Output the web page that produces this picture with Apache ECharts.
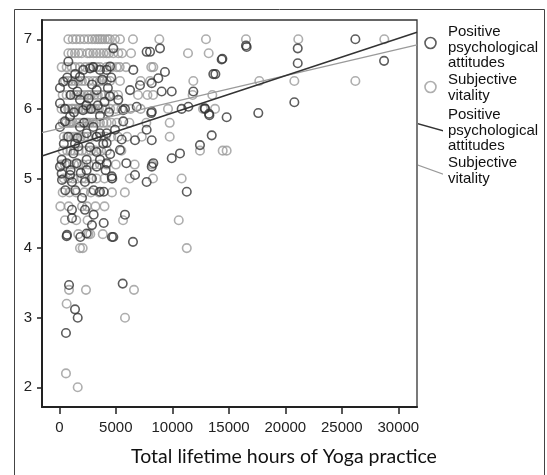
<!DOCTYPE html>
<html><head><meta charset="utf-8">
<script src="https://cdn.jsdelivr.net/npm/echarts@6/dist/echarts.min.js"></script>
<style>html,body{margin:0;padding:0;background:#fff}#c{width:547px;height:475px}</style>
</head><body><div id="c"></div>
<script>
const xTicks = [0, 5000, 10000, 15000, 20000, 25000, 30000];
const yTicks = [2, 3, 4, 5, 6, 7];
const axisTitle = 'Total lifetime hours of Yoga practice';

// Positive psychological attitudes (dark circles): [hours, score]
const ppaPoints = [
 [4780,6.87],[6550,6.56],[7730,6.82],[8030,6.82],[8910,6.87],[9350,6.53],[8760,6.44],[8180,6.37],[7140,6.34],[6260,6.27],
 [9060,6.25],[9950,6.25],[11860,6.25],[13630,6.5],[14370,6.71],[16580,6.89],[17610,5.94],[14810,5.88],[13280,5.91],[12890,6.0],
 [11420,6.03],[10830,6.0],[8180,5.96],[6850,6.03],[5810,6.0],[5660,5.82],[7730,5.7],[6700,5.55],[8180,5.55],[5520,5.56],
 [4190,5.51],[12450,5.48],[13490,5.62],[10680,5.36],[9950,5.29],[8320,5.22],[8180,5.17],[5370,5.41],[4190,5.22],[6700,5.05],
 [7730,4.95],[4640,5.03],[11280,4.81],[5810,4.48],[3930,4.36],[3040,4.48],
 [16520,6.91],[21100,6.87],[21100,6.655],[28740,6.69],[26200,7.0],[14430,6.72],[13810,6.5],[20800,6.095],[12870,6.01],[13250,5.93],
 [5640,5.98],[8140,5.94],[5930,5.22],[6520,4.09],[4780,4.16],[650,4.17],
 [860,3.47],[5610,3.49],[1390,3.12],[1630,3.0],[590,2.78],
 [800,6.68],[2120,6.56],[1830,6.46],[2720,6.58],[3600,6.56],[4190,6.56],[4490,6.61],[60,6.3],[350,6.39],[3310,6.27],
 [4490,6.18],[5220,6.13],[60,6.08],[1830,6.13],[950,5.89],[500,5.82],[60,5.74],[1830,5.74],[2420,5.65],[3310,5.6],
 [3600,5.65],[4190,5.65],[3010,5.74],[4930,5.7],[1390,5.5],[1680,5.46],[3890,5.5],[1240,5.36],[210,5.27],[650,5.22],
 [1540,5.22],[2420,5.27],[3600,5.27],[60,5.17],[210,5.07],[950,5.05],[2420,5.12],[3310,5.17],
 [240,4.98],[1120,4.95],[2890,5.0],[4660,5.0],[2270,4.95],[530,4.83],[1415,4.83],[3040,4.83],[3930,4.81],[3600,4.81],
 [2010,4.72],[1120,4.55],[2270,4.55],[1120,4.43],[2890,4.33],[4660,4.16],[680,4.19],[1860,4.16],[2420,4.21],
 [700,6.45],[1400,6.5],[2900,6.35],[3800,6.42],[4300,6.3],[1000,6.2],[1600,6.25],[2600,6.15],[3400,6.05],[4000,6.1],
 [500,6.0],[1300,5.95],[2100,5.98],[2800,6.0],[3600,5.9],[4400,5.95],[800,5.6],[1600,5.58],[2700,5.45],[3300,5.38],
 [4500,5.35],[1000,5.12],[1900,5.08],[4100,5.12],[400,5.5],[2200,5.8],[1200,6.35],[4600,6.45],[3000,6.6],[2400,6.05]
];

// Subjective vitality (light circles): [hours, score]
const svPoints = [
 [800,7],[1190,7],[1500,7],[1830,7],[2200,7],[2570,7],[2900,7],[3160,7],[3400,7],[3600,7],[3800,7],[4040,7],[4300,7],[4480,7],[4920,7],[5370,7],[6520,7],[8850,7],[12980,7],[16520,7],[21150,7],[28760,7],
 [800,6.8],[1100,6.8],[1390,6.8],[1700,6.8],[1980,6.8],[2480,6.8],[2700,6.8],[3010,6.8],[3300,6.8],[3600,6.8],[3900,6.8],[4190,6.8],[4400,6.8],[4780,6.8],[5220,6.8],[5550,6.8],[6350,6.8],[11390,6.8],[13220,6.8],
 [210,6.6],[650,6.6],[1100,6.6],[1400,6.6],[1830,6.6],[2300,6.6],[2720,6.6],[3000,6.6],[3300,6.6],[3600,6.6],[4190,6.6],[4640,6.6],[5080,6.6],[5345,6.6],[5900,6.6],[8140,6.6],[8320,6.6],
 [500,6.4],[800,6.4],[1100,6.4],[1400,6.4],[1680,6.4],[2000,6.4],[2270,6.4],[2600,6.4],[3000,6.4],[3310,6.4],[3600,6.4],[3890,6.4],[4200,6.4],[4490,6.4],[5370,6.4],[7200,6.4],[8030,6.4],[11860,6.4],[17700,6.4],[20800,6.4],[26200,6.4],
 [300,6.2],[650,6.2],[1000,6.2],[1300,6.2],[1500,6.2],[1600,6.2],[1900,6.2],[2200,6.2],[2500,6.2],[2600,6.2],[2800,6.2],[3100,6.2],[3400,6.2],[3700,6.2],[4000,6.2],[4400,6.2],[4800,6.2],[5200,6.2],[6965,6.2],[7800,6.2],[8300,6.2],[11800,6.2],[13540,6.2],
 [200,6.0],[500,6.0],[800,6.0],[1100,6.0],[1200,6.0],[1400,6.0],[1700,6.0],[2000,6.0],[2100,6.0],[2300,6.0],[2600,6.0],[2900,6.0],[3000,6.0],[3200,6.0],[3500,6.0],[3800,6.0],[4100,6.0],[4500,6.0],[5000,6.0],[5500,6.0],[6300,6.0],[7200,6.0],[9620,6.0],[12720,6.0],[13780,6.0],
 [300,5.8],[600,5.8],[900,5.8],[1000,5.8],[1200,5.8],[1500,5.8],[1800,5.8],[2100,5.8],[2400,5.8],[2500,5.8],[2700,5.8],[3000,5.8],[3300,5.8],[3600,5.8],[3900,5.8],[4200,5.8],[4600,5.8],[5100,5.8],[6200,5.8],[7700,5.8],[9770,5.8],
 [400,5.6],[700,5.6],[1000,5.6],[1300,5.6],[1600,5.6],[1900,5.6],[2200,5.6],[2500,5.6],[2900,5.6],[3300,5.6],[3700,5.6],[4100,5.6],[4600,5.6],[5200,5.6],[6000,5.6],[7300,5.6],[9770,5.6],
 [300,5.4],[700,5.4],[1000,5.4],[1300,5.4],[1700,5.4],[2000,5.4],[2400,5.4],[2800,5.4],[3200,5.4],[3700,5.4],[4200,5.4],[5490,5.4],[12450,5.4],[14460,5.4],[14810,5.4],
 [200,5.2],[500,5.2],[900,5.2],[1300,5.2],[1700,5.2],[2100,5.2],[2600,5.2],[3100,5.2],[3600,5.2],[4200,5.2],[5000,5.2],[6670,5.2],[8200,5.2],
 [400,5.0],[800,5.0],[1200,5.0],[1600,5.0],[2000,5.0],[2300,5.0],[2800,5.0],[3300,5.0],[4000,5.0],[4700,5.0],[6230,5.0],[8290,5.0],[10830,5.0],
 [300,4.8],[900,4.8],[1500,4.8],[2200,4.8],[2800,4.8],[3500,4.8],[4660,4.8],[5800,4.8],
 [90,4.6],[830,4.6],[2010,4.6],[2450,4.6],[3200,4.6],[4000,4.6],
 [500,4.4],[1500,4.4],[2500,4.4],[5640,4.4],[10570,4.4],
 [1680,4.2],[2570,4.2],[2740,4.2],[3850,4.2],
 [1830,4.0],[2070,4.0],[11280,4.0],
 [860,3.4],[2360,3.4],[6610,3.4],[650,3.2],[5815,3.0],[590,2.2],[1630,2.0]
];

// Fitted regression lines, evaluated at the axis extent
const fitHours = [-1531, 31655];
const ppaFit = [5.323, 7.10];
const svFit = [5.658, 6.918];

const legendLabels = {
  ppa: 'Positive\npsychological\nattitudes',
  sv: 'Subjective\nvitality',
  ppaFit: 'Positive\npsychological\nattitudes',
  svFit: 'Subjective\nvitality'
};
// small spacer line above each label (sets the label's offset from its key)
const legendSpacer = {ppa: 's9', sv: 's2', ppaFit: 's4', svFit: 's2'};

const DARK = '#333333', LIGHT = '#9a9a9a';
const chart = echarts.init(document.getElementById('c'), null, {renderer: 'canvas'});
const tickFont = {fontFamily: 'Liberation Sans', fontSize: 15, color: '#222'};
const anchor = 'M0,0 L0.01,0 L0,0.01 Z M25,11 L24.99,11 L25,10.99 Z ';
const spacer = h => ({fontSize: 1, lineHeight: h, height: h});

chart.setOption({
  animation: false,
  backgroundColor: '#fff',
  graphic: [{
    type: 'rect', silent: true,
    shape: {x: 14.5, y: 9.5, width: 530, height: 480},
    style: {fill: 'none', stroke: '#444', lineWidth: 1}
  }],
  title: {
    text: axisTitle, left: 284, top: 447, textAlign: 'center', padding: 0,
    textStyle: {fontFamily: 'Lato', fontSize: 19.5, fontWeight: 'normal', color: '#111'}
  },
  grid: {left: 42, right: 130, top: 20, bottom: 68, show: true, borderColor: '#333', borderWidth: 1.3, containLabel: false},
  legend: {
    orient: 'vertical', left: 418, top: 15.25, padding: 0, itemWidth: 25, itemHeight: 11, itemGap: -0.25,
    selectedMode: false,
    textStyle: {fontFamily: 'Liberation Sans', fontSize: 15, lineHeight: 15.5, color: '#111',
      rich: {s9: spacer(9), s4: spacer(4), s2: spacer(2)}},
    formatter: n => (legendSpacer[n] ? '{' + legendSpacer[n] + '| }\n' : '') + legendLabels[n],
    data: [
      {name: 'ppa', icon: 'circle', itemStyle: {color: 'rgba(0,0,0,0)', borderColor: DARK, borderWidth: 1.6}},
      {name: 'sv', icon: 'circle', itemStyle: {color: 'rgba(0,0,0,0)', borderColor: LIGHT, borderWidth: 1.6}},
      {name: 'ppaFit', icon: 'path://' + anchor + 'M0,0 L25,7 L25,8.4 L0,1.4 Z', itemStyle: {color: DARK, borderWidth: 0}},
      {name: 'svFit', icon: 'path://' + anchor + 'M0,0 L25,9 L25,10.2 L0,1.2 Z', itemStyle: {color: LIGHT, borderWidth: 0}}
    ]
  },
  xAxis: {
    type: 'value', min: -1531, max: 31655,
    axisLine: {show: true, onZero: false, lineStyle: {color: '#222', width: 2}},
    axisTick: {show: true, length: 7, customValues: xTicks, lineStyle: {color: '#222', width: 1.5}},
    axisLabel: {customValues: xTicks, margin: 13, formatter: v => String(v), ...tickFont},
    splitLine: {show: false}
  },
  yAxis: {
    type: 'value', min: 1.717, max: 7.277,
    axisLine: {show: true, onZero: false, lineStyle: {color: '#222', width: 2}},
    axisTick: {show: true, length: 5, customValues: yTicks, lineStyle: {color: '#222', width: 1.5}},
    axisLabel: {customValues: yTicks, margin: 10, formatter: v => String(v), ...tickFont},
    splitLine: {show: false}
  },
  series: [
    {name: 'sv', type: 'scatter', data: svPoints, symbol: 'circle', symbolSize: 8.5, silent: true,
     itemStyle: {color: 'rgba(0,0,0,0)', borderColor: LIGHT, borderWidth: 1.6}},
    {name: 'ppa', type: 'scatter', data: ppaPoints, symbol: 'circle', symbolSize: 8.5, silent: true,
     itemStyle: {color: 'rgba(0,0,0,0)', borderColor: DARK, borderWidth: 1.6}},
    {name: 'svFit', type: 'line', data: fitHours.map((h, i) => [h, svFit[i]]), symbol: 'none', silent: true,
     itemStyle: {color: LIGHT}, lineStyle: {color: LIGHT, width: 1.3}, z: 5},
    {name: 'ppaFit', type: 'line', data: fitHours.map((h, i) => [h, ppaFit[i]]), symbol: 'none', silent: true,
     itemStyle: {color: DARK}, lineStyle: {color: DARK, width: 1.5}, z: 6}
  ]
});
</script></body></html>
